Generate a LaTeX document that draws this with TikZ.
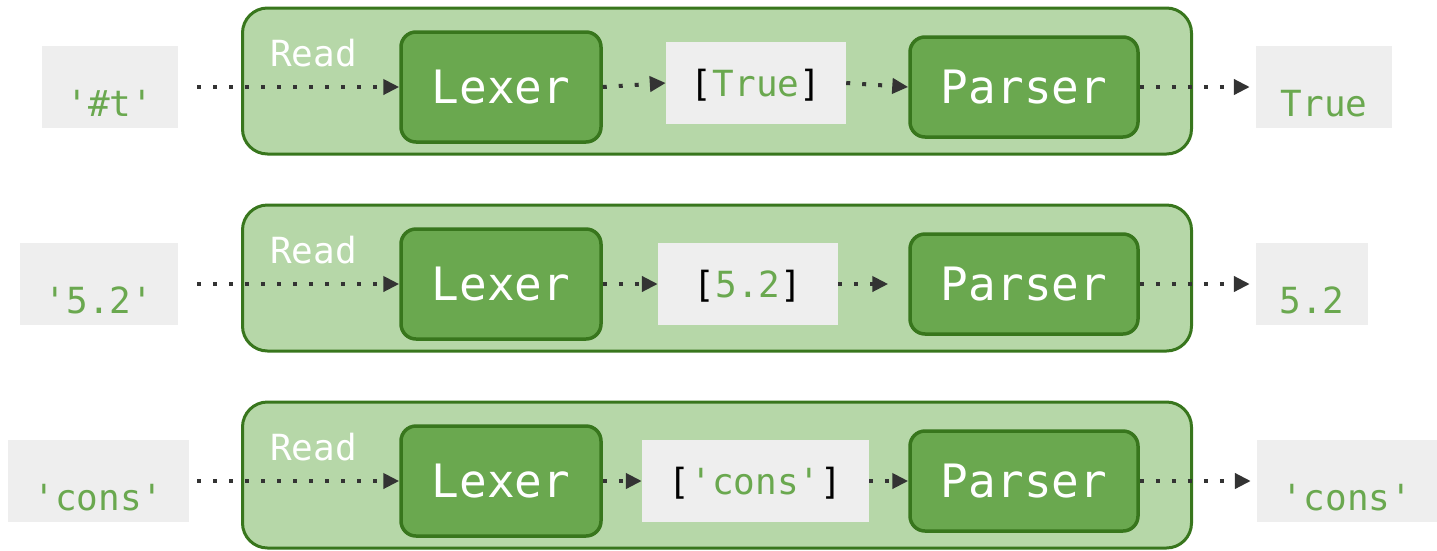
\documentclass[tikz,border=0pt]{standalone}
\usepackage{fontspec}
\setmonofont{DejaVu Sans Mono}
\usetikzlibrary{arrows.meta}
\definecolor{groupfill}{HTML}{B6D7A8}
\definecolor{darkgreen}{HTML}{38761D}
\definecolor{stagefill}{HTML}{6AA84F}
\definecolor{litgreen}{HTML}{6AA84F}
\definecolor{chipgray}{HTML}{EEEEEE}
\definecolor{arrowgray}{HTML}{333333}

\begin{document}
\begin{tikzpicture}[x=1pt,y=-1pt,
  group/.style={draw=darkgreen, line width=3pt, fill=groupfill,
    rounded corners=25pt, minimum width=949pt, minimum height=146pt, inner sep=0pt},
  stage/.style={draw=darkgreen, line width=3.5pt, fill=stagefill,
    rounded corners=15pt, inner sep=0pt, text=white,
    font=\ttfamily\fontsize{46}{50}\selectfont, text height=33.5pt, text depth=0pt},
  token/.style={fill=chipgray, inner sep=0pt, minimum height=82pt, text=black,
    font=\ttfamily\fontsize{36}{40}\selectfont, text height=26pt, text depth=0pt},
  literal/.style={fill=chipgray, inner sep=0pt, minimum height=82pt, text=litgreen,
    font=\ttfamily\fontsize{36}{40}\selectfont, text height=70pt, text depth=12pt},
  lbl/.style={anchor=base west, inner sep=0pt, text=white,
    font=\ttfamily\fontsize{36}{40}\selectfont},
  flow/.style={draw=arrowgray, line width=4pt, dash pattern=on 4pt off 12pt,
    -{Triangle[length=16pt,width=15pt]}}
]
\useasboundingbox (0,0) rectangle (1437,550);

% ---- row 1: '#t' ----
\node[group] (grp1) at (717,81) {};
\node[lbl] (read1) at (270,66) {Read};
\node[literal, minimum width=136pt] (in1) at (110,87) {'\#t'};
\node[stage, minimum width=200pt, minimum height=110pt] (lex1) at (501,87) {Lexer};
\node[token, minimum width=180pt] (tok1) at (756,83) {[\textcolor{litgreen}{True}]};
\node[stage, minimum width=228pt, minimum height=100pt] (par1) at (1024,87) {Parser};
\node[literal, minimum width=136pt] (out1) at (1324,87) {True};
\draw[flow, shorten <=19pt] (in1.east) -- (lex1.west);
\draw[flow] (lex1.east) -- (tok1.west);
\draw[flow] (tok1.east) -- (par1.west);
\draw[flow, shorten >=6pt] (par1.east) -- (out1.west);

% ---- row 2: '5.2' ----
\node[group] (grp2) at (717,278) {};
\node[lbl] (read2) at (270,263) {Read};
\node[literal, minimum width=158pt] (in2) at (99,284) {'5.2'};
\node[stage, minimum width=200pt, minimum height=110pt] (lex2) at (501,284) {Lexer};
\node[token, minimum width=180pt] (tok2) at (748,284) {[\textcolor{litgreen}{5.2}]};
\node[stage, minimum width=228pt, minimum height=100pt] (par2) at (1024,284) {Parser};
\node[literal, minimum width=112pt] (out2) at (1312,284) {5.2};
\draw[flow, shorten <=19pt] (in2.east) -- (lex2.west);
\draw[flow] (lex2.east) -- (tok2.west);
\draw[flow, shorten >=20pt] (tok2.east) -- (par2.west);
\draw[flow, shorten >=6pt] (par2.east) -- (out2.west);

% ---- row 3: 'cons' ----
\node[group] (grp3) at (717,475) {};
\node[lbl] (read3) at (270,460) {Read};
\node[literal, minimum width=181pt] (in3) at (98.5,481) {'cons'};
\node[stage, minimum width=200pt, minimum height=110pt] (lex3) at (501,481) {Lexer};
\node[token, minimum width=227pt] (tok3) at (755.5,481) {[\textcolor{litgreen}{'cons'}]};
\node[stage, minimum width=228pt, minimum height=100pt] (par3) at (1024,481) {Parser};
\node[literal, minimum width=180pt] (out3) at (1347,481) {'cons'};
\draw[flow, shorten <=8pt] (in3.east) -- (lex3.west);
\draw[flow] (lex3.east) -- (tok3.west);
\draw[flow] (tok3.east) -- (par3.west);
\draw[flow, shorten >=6pt] (par3.east) -- (out3.west);
\end{tikzpicture}
\end{document}
